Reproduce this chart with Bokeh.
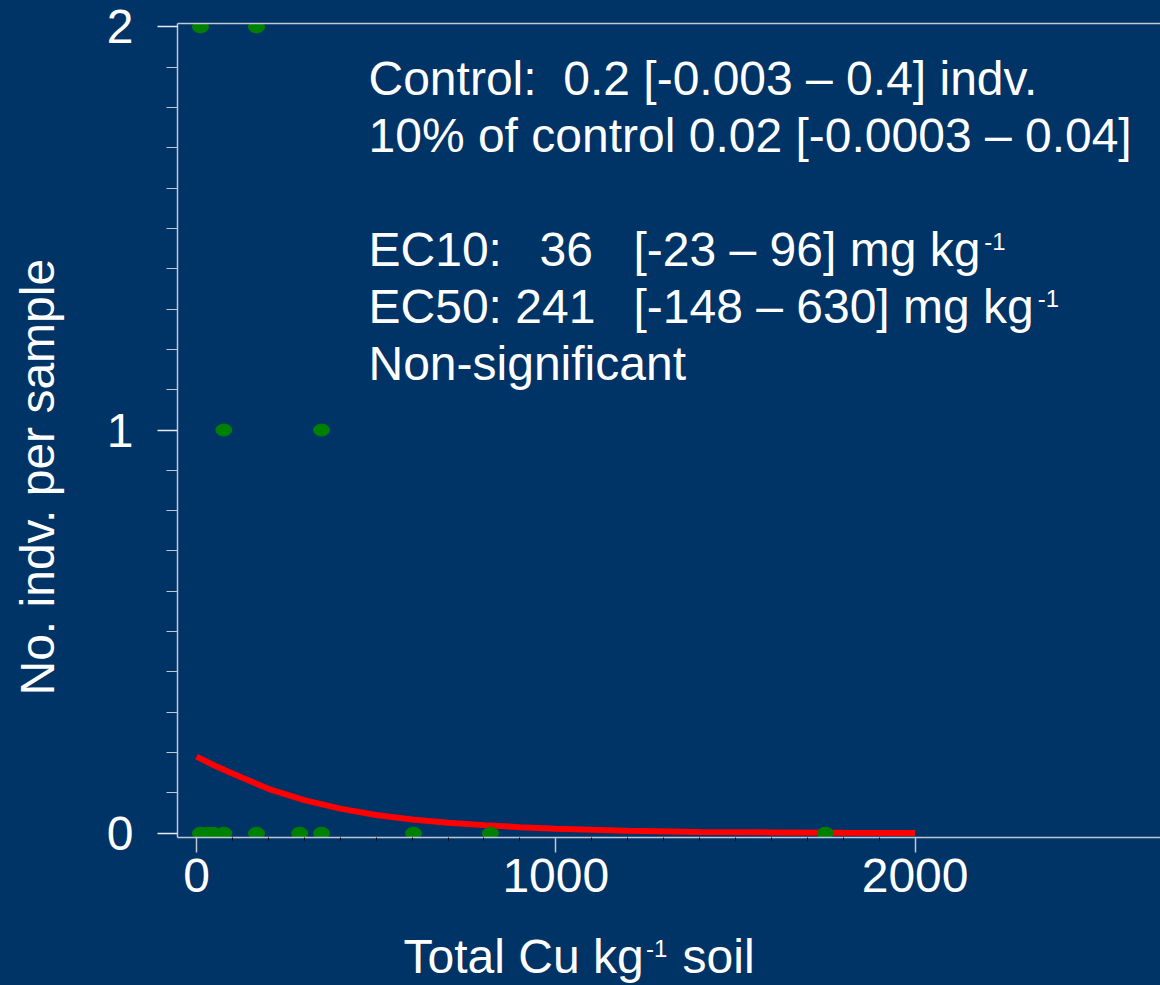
from bokeh.plotting import figure
from bokeh.models import Range1d, FixedTicker, LinearAxis, Label
from bokeh.layouts import column
from bokeh.embed import file_html
from bokeh.resources import INLINE

# ---------------- data ----------------
dose_x = [11, 31, 47, 76, 167, 287, 348, 604, 818, 1750, 76, 348, 11, 167]
count_y = [0, 0, 0, 0, 0, 0, 0, 0, 0, 0, 1, 1, 2, 2]

fit_x = [0, 50, 100, 200, 300, 400, 500, 600, 700, 800, 900, 1000, 1200, 1400, 1600, 1800, 2000]
fit_y = [0.19, 0.168, 0.148, 0.11, 0.082, 0.061, 0.045, 0.034, 0.026, 0.020, 0.015, 0.011,
         0.006, 0.003, 0.002, 0.001, 0.0005]

x_ticks = [0, 1000, 2000]
x_minor = [100, 200, 300, 400, 500, 600, 700, 800, 900, 1100, 1200, 1300, 1400, 1500,
           1600, 1700, 1800, 1900]
y_ticks = [0, 1, 2]
y_minor = [0.1, 0.2, 0.3, 0.4, 0.5, 0.6, 0.7, 0.8, 0.9, 1.1, 1.2, 1.3, 1.4, 1.5, 1.6,
           1.7, 1.8, 1.9]

x_title = ["Total Cu kg", "-1", "\u00a0soil"]
y_title = "No. indv. per sample"
note_lines = ["Control:\u00a0 0.2 [-0.003 \u2013 0.4] indv.",
              "10% of control 0.02 [-0.0003 \u2013 0.04]",
              "Non-significant"]
ec10_parts = ["EC10:", "36", "[-23 \u2013 96] mg kg", "-1"]
ec50_parts = ["EC50: 241", "[-148 \u2013 630] mg kg", "-1"]

# ---------------- styling ----------------
BG = "#003366"
AXIS = "#c0c8d8"
FONT = "Liberation Sans"
FSN = 48
SUPN = 24
FS = "%dpx" % FSN

W, H = 1160, 925                   # main plot; a strip below holds the x title
HB = 60
FL, FT, FB = 177, 23, 837          # frame left / top / bottom in pixels
X0, X1 = -52.9, 2683.0
Y0, Y1 = -0.0107, 2.0084

# Arial / Liberation Sans advance widths (per 1000 em) for placing superscripts
ADV = {" ": 278, "\u00a0": 278, "-": 333, "[": 278, "]": 278, "\u2013": 556, ".": 278,
       ":": 278, "%": 889, "T": 611, "o": 556, "t": 278, "a": 556, "l": 222, "C": 722,
       "u": 556, "k": 500, "g": 556, "m": 833, "s": 500, "i": 222}


def text_w(s, size):
    return sum(ADV.get(ch, 556) for ch in s) * size / 1000.0


p = figure(width=W, height=H, x_range=Range1d(X0, X1), y_range=Range1d(Y0, Y1),
           output_backend="svg", toolbar_location=None,
           min_border_left=FL, min_border_right=0, min_border_top=FT,
           min_border_bottom=H - FB)
p.background_fill_color = BG
p.border_fill_color = BG
p.outline_line_color = None
p.xgrid.visible = False
p.ygrid.visible = False

# x axis
xa = p.xaxis[0]
xa.ticker = FixedTicker(ticks=x_ticks, minor_ticks=x_minor)
xa.axis_line_color = AXIS
xa.axis_line_width = 1.5
xa.major_tick_line_color = AXIS
xa.major_tick_line_width = 1.5
xa.major_tick_out = 15
xa.major_tick_in = 0
xa.minor_tick_line_color = "black"
xa.minor_tick_out = 3
xa.minor_tick_in = 0
xa.major_label_text_color = "white"
xa.major_label_text_font = FONT
xa.major_label_text_font_size = FS
xa.major_label_standoff = 6

# y axis (title padded at its top end so it sits lower, as in the reference)
ya = p.yaxis[0]
ya.ticker = FixedTicker(ticks=y_ticks, minor_ticks=y_minor)
ya.axis_line_color = AXIS
ya.axis_line_width = 1.5
ya.major_tick_line_color = "#e8ecf2"
ya.major_tick_line_width = 1.5
ya.major_tick_out = 20
ya.major_tick_in = 0
ya.minor_tick_line_color = AXIS
ya.minor_tick_line_width = 1.2
ya.minor_tick_out = 11
ya.minor_tick_in = 0
ya.major_label_text_color = "white"
ya.major_label_text_font = FONT
ya.major_label_text_font_size = FS
ya.major_label_standoff = 24
ya.axis_label = y_title + "\u00a0" * 7
ya.axis_label_text_color = "white"
ya.axis_label_text_font = FONT
ya.axis_label_text_font_size = FS
ya.axis_label_text_font_style = "normal"
ya.axis_label_standoff = 40

# top frame line
top = LinearAxis(ticker=FixedTicker(ticks=[]), axis_line_color=AXIS, axis_line_width=1.5,
                 major_tick_out=0, major_tick_in=0, minor_tick_out=0, minor_tick_in=0,
                 major_label_standoff=0, major_label_text_font_size="0px")
p.add_layout(top, "above")

# data marks
p.line(fit_x, fit_y, line_color="#ff0000", line_width=6)
p.ellipse(dose_x, count_y, width=16, height=12, width_units="screen", height_units="screen",
          fill_color="#008000", line_color="#008000")


def dx(px):
    return X0 + (px - FL) * (X1 - X0) / float(W - FL)


def dy(py):
    return Y0 + (FB - py) * (Y1 - Y0) / float(FB - FT)


def lab(fig, text, x, y, size=FSN):
    fig.add_layout(Label(x=x, y=y, text=text, text_color="white",
                         text_font=FONT, text_font_size="%dpx" % size, text_align="left",
                         text_baseline="alphabetic"))


def note(text, px, base, size=FSN):
    # base = wanted pixel baseline; compensate the renderer's baseline shift
    lab(p, text, dx(px), dy(base - 0.38 * size), size)


TX = 368
note(note_lines[0], TX, 96)
note(note_lines[1], TX, 153)

b10 = 267
note(ec10_parts[0], TX, b10)
note(ec10_parts[1], 539, b10)
note(ec10_parts[2], 633, b10)
note(ec10_parts[3], 633 + text_w(ec10_parts[2], FSN) + 4, b10 - 17, SUPN)

b50 = 324
note(ec50_parts[0], TX, b50)
note(ec50_parts[1], 633, b50)
note(ec50_parts[2], 633 + text_w(ec50_parts[1], FSN) + 4, b50 - 17, SUPN)

note(note_lines[2], TX, 381)

# ---------------- strip below with the x-axis title ----------------
# transparent canvas over a CSS background (avoids seams of the frame fill)
pb = figure(width=W, height=HB, x_range=Range1d(FL, W), y_range=Range1d(H + HB, H),
            x_axis_type=None, y_axis_type=None, output_backend="svg",
            toolbar_location=None, min_border_left=FL, min_border_right=0,
            min_border_top=0, min_border_bottom=0)
pb.background_fill_color = None
pb.border_fill_color = None
pb.outline_line_color = None
pb.styles = {"background-color": BG}

tx0, tb = 403, 974
lab(pb, x_title[0], tx0, tb - 0.38 * FSN)
sx = tx0 + text_w(x_title[0], FSN) - 3
lab(pb, x_title[1], sx, tb - 17 - 0.38 * SUPN, SUPN)
lab(pb, x_title[2], sx + text_w(x_title[1], SUPN) + 2, tb - 0.38 * FSN)

layout = column(p, pb, spacing=0, styles={"background-color": BG})
open("out.html", "w").write(file_html(layout, INLINE))
